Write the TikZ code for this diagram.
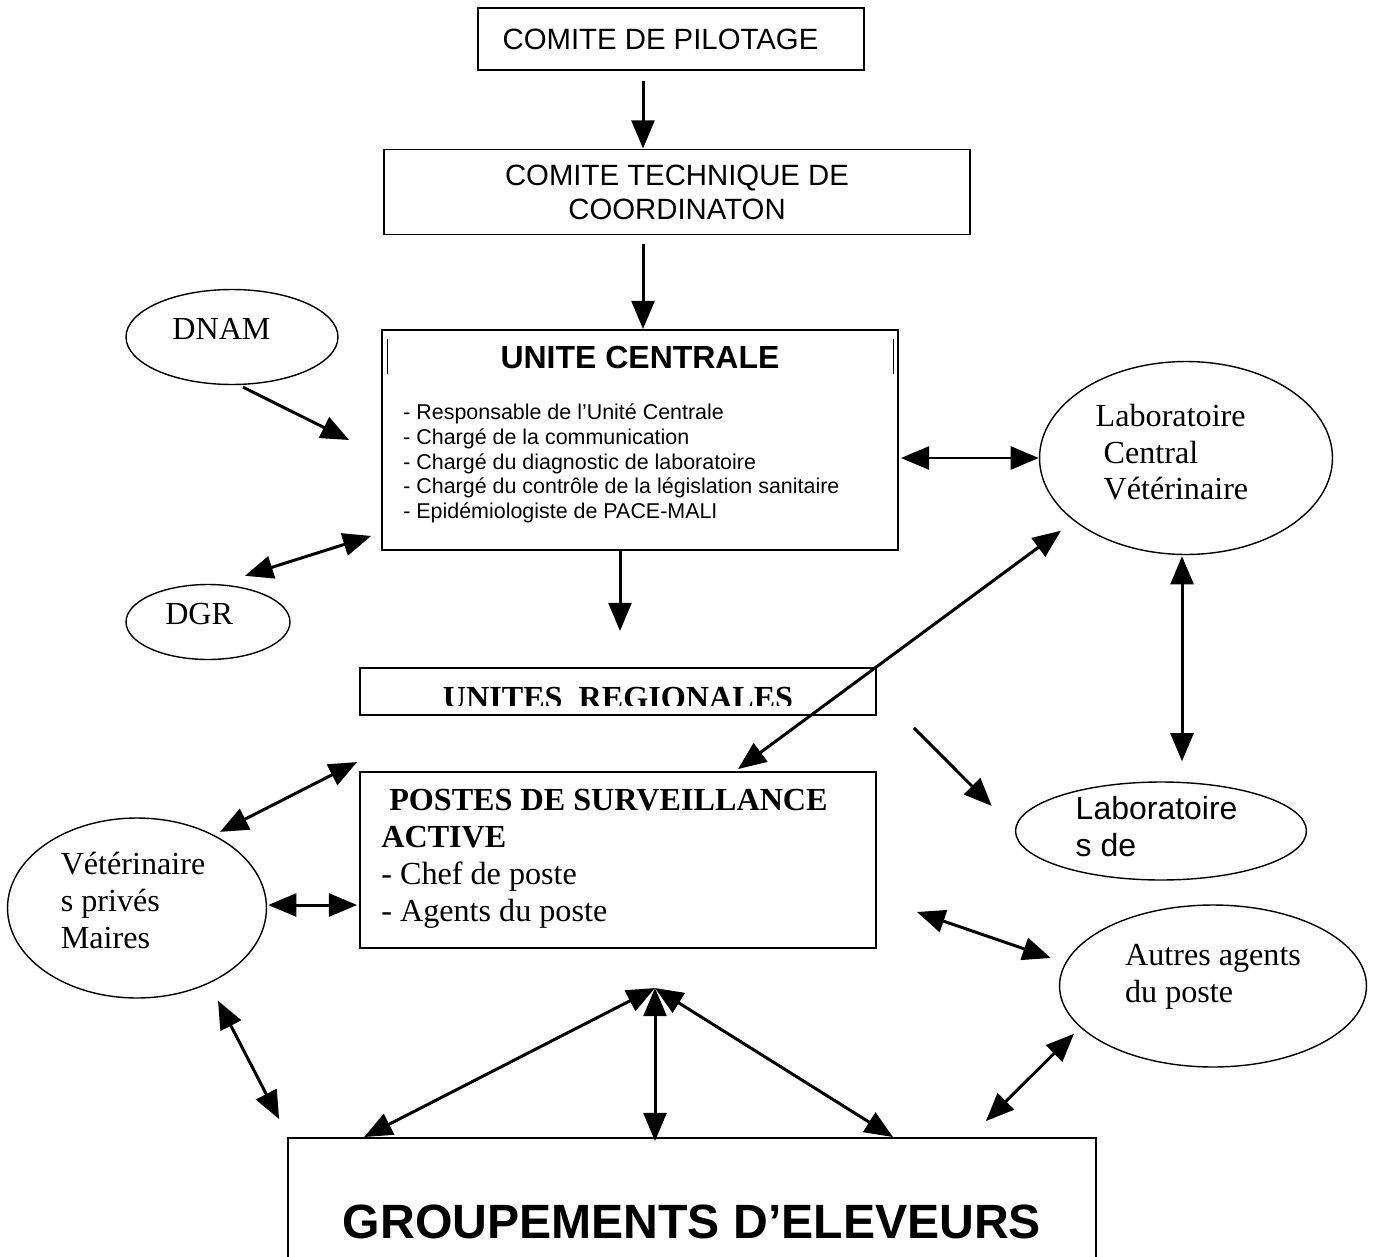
\documentclass[tikz,border=0pt]{standalone}
\usepackage{fontspec}
\setmainfont{Liberation Serif}
\setsansfont{Liberation Sans}
\usetikzlibrary{arrows.meta, shapes.geometric, calc}

\begin{document}
\begin{tikzpicture}[
        x=0.02cm, y=-0.02cm,
        box/.style={rectangle, draw, line width=1.1pt, align=center, inner sep=0pt},
        bubble/.style={ellipse, draw, line width=0.8pt, align=left, inner sep=0pt,
            font=\fontsize{18.3}{21}\selectfont},
        arrow/.style={-{Triangle[length=16pt,width=13pt]}, line width=1.7pt},
        darrow/.style={{Triangle[length=16pt,width=13pt]}-{Triangle[length=16pt,width=13pt]}, line width=1.7pt},
        sftext/.style={font=\sffamily\fontsize{16.7}{19.3}\selectfont}
    ]
        \useasboundingbox (0,0) rectangle (1379,1257);

        % Top: steering committees
        \node[box, sftext, minimum width=7.72cm, minimum height=1.24cm] (pilotage) at (671,39) {COMITE DE PILOTAGE\hspace*{12pt}};
        \node[box, sftext, minimum width=11.72cm, minimum height=1.7cm] (technique) at (677,192) {COMITE TECHNIQUE DE\\COORDINATON};

        % Central unit
        \node[box, minimum width=10.32cm, minimum height=4.4cm] (centrale) at (640,440) {};
        \node[font=\sffamily\bfseries\fontsize{18.2}{21}\selectfont] (centraletitle) at (640,357) {UNITE CENTRALE};
        \node[anchor=north west, align=left, inner sep=0pt, font=\sffamily\fontsize{12.2}{14.2}\selectfont] (centralelist) at (403,403)
            {- Responsable de l'Unité Centrale\\- Chargé de la communication\\- Chargé du diagnostic de laboratoire\\- Chargé du contrôle de la législation sanitaire\\- Epidémiologiste de PACE-MALI};
        \draw[line width=0.5pt] ($(centrale.north west)+(6,10)$) -- ++(0,35);
        \draw[line width=0.5pt] ($(centrale.north east)+(-5,10)$) -- ++(0,35);

        % Left partners
        \node[bubble, minimum width=4.24cm, minimum height=1.9cm] (dnam) at (232,337) {DNAM\hspace*{12pt}\\[-12pt]};
        \node[bubble, minimum width=3.28cm, minimum height=1.5cm] (dgr) at (208,622) {DGR\hspace*{10pt}\\[-12pt]};

        % Regional units
        \node[box, minimum width=10.32cm, minimum height=0.94cm] (regionales) at (618,691.5) {};
        \begin{scope}
            \clip (360,668) rectangle (876,705);
            \node[font=\bfseries\fontsize{18.3}{21}\selectfont] (regtext) at (618,698) {UNITES\ \ REGIONALES};
        \end{scope}

        % Laboratories
        \node[bubble, minimum width=5.86cm, minimum height=3.86cm] (labcentral) at (1186,458) {Laboratoire\\\hspace*{4.5pt}Central\\\hspace*{4.5pt}Vétérinaire\rule{16pt}{0pt}\\[-14pt]};
        \node[bubble, font=\sffamily\fontsize{18.2}{21}\selectfont, minimum width=5.82cm, minimum height=1.96cm] (labde) at (1161,831) {Laboratoire\hspace*{5pt}\\s de\\[-16pt]};

        % Surveillance posts
        \node[box, minimum width=10.32cm, minimum height=3.52cm] (postes) at (618,860) {};
        \node[anchor=north west, align=left, inner sep=0pt, font=\fontsize{18.3}{21}\selectfont] (postestext) at (381,789)
            {\textbf{\hspace*{4.5pt}POSTES DE SURVEILLANCE}\\\textbf{ACTIVE}\\- Chef de poste\\- Agents du poste};
        \node[bubble, minimum width=5.18cm, minimum height=3.6cm] (vet) at (137,908) {Vétérinaire\hspace*{4.5pt}\\s privés\\Maires\\[-12pt]};
        \node[bubble, minimum width=6.14cm, minimum height=3.24cm] (autres) at (1213,986) {Autres agents\\du poste\\[-6.3pt]};

        % Bottom: farmer groups
        \node[box, font=\sffamily\bfseries\fontsize{27.4}{30}\selectfont, minimum width=16.16cm, minimum height=3.36cm] (groupements) at (692,1222) {GROUPEMENTS D’ELEVEURS};
        \coordinate (hub) at (655,988);

        % Arrows - top chain
        \draw[arrow] ($(pilotage.south)+(-28,10)$) -- ($(technique.north)+(-34,0)$);
        \draw[arrow] ($(technique.south)+(-34,9)$) -- ($(centrale.north)+(3,0)$);
        \draw[arrow] ($(dnam.south)+(11,2)$) -- ($(centrale.west)+(-32,0)$);
        \draw[darrow] ($(dgr.north)+(37,-8)$) -- ($(centrale.south west)+(-10,-15)$);
        \draw[arrow] ($(centrale.south)+(-20,0)$) -- ($(regionales.north)+(2,-36)$);

        % Arrows - laboratories
        \draw[darrow] ($(centrale.east)+(2,18)$) -- (labcentral.west);
        \draw[darrow] ($(labcentral.south west)+(-21,4)$) -- ($(postes.north)+(120,-2)$);
        \draw[darrow] ($(labcentral.south)+(-4,1)$) -- ($(labde.north)+(21,-20)$);
        \draw[arrow] ($(regionales.south east)+(37,12)$) -- ($(labde.west)+(-23,-25)$);

        % Arrows - posts and partners
        \draw[darrow] ($(vet.north east)+(-9,-12)$) -- ($(postes.north west)+(-2,-9)$);
        \draw[darrow] ($(vet.east)+(1,-3)$) -- ($(postes.west)+(-2,45)$);
        \draw[darrow] ($(postes.east)+(40,52)$) -- ($(autres.west)+(-8,-28)$);
        \draw[darrow] ($(vet.south)+(81,2)$) -- ($(groupements.north west)+(-8,-18)$);
        \draw[darrow] ($(autres.south west)+(-30,-10)$) -- ($(groupements.north east)+(-111,-16)$);

        % Arrows - hub to farmer groups
        \draw[darrow] (hub) -- ($(groupements.north)+(-37,4)$);
        \draw[darrow] (hub) -- ($(groupements.north west)+(77,0)$);
        \draw[darrow] (hub) -- ($(groupements.north)+(201,0)$);
    \end{tikzpicture}
\end{document}
